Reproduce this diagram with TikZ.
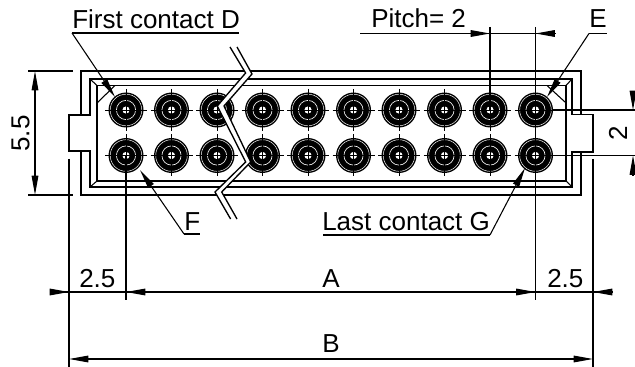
\documentclass[tikz,border=0pt]{standalone}
\usepackage{xcolor}
\usepackage{fontspec}
\setmainfont{Liberation Sans}
\usepackage{tikz}
\usetikzlibrary{arrows.meta}

\begin{document}
\begin{tikzpicture}[x = 0.75pt,
                    y = -0.75pt,
                    >={Triangle[length=14.5pt,width=5pt]},
                    wall/.style = {draw=black, line width=1pt, line join=miter},
                    dimline/.style = {draw=black, line width=0.8pt},
                    underline/.style = {draw=black, line width=1.2pt},
                    label_d/.style = {inner sep=0pt, anchor=base west, font=\fontsize{19.5}{22}\selectfont}]

  \useasboundingbox (0, 0) rectangle (635, 367);


  % DEF POINTS
  \coordinate (first_l) at (72, 33);
  \coordinate (first_r) at (239, 33);
  \coordinate (first_tip) at (115, 97);
  \coordinate (e_l) at (589, 33.5);
  \coordinate (e_r) at (607, 33.5);
  \coordinate (e_tip) at (547, 97);
  \coordinate (f_l) at (184, 234);
  \coordinate (f_r) at (200, 234);
  \coordinate (f_tip) at (140, 170);
  \coordinate (last_l) at (323, 235);
  \coordinate (last_r) at (490, 235);
  \coordinate (last_tip) at (525, 168);


  % BODY
  \draw[wall] (81, 115) -- (81, 71) -- (581, 71) -- (581, 114.5);
  \draw[wall] (581, 152) -- (581, 195) -- (81, 195) -- (81, 151);
  \draw[wall] (90, 79) -- (572, 79) -- (572, 114.5) -- (593, 114.5) -- (593, 152) -- (572, 152)
              -- (572, 187) -- (90, 187) -- (90, 151) -- (69, 151) -- (69, 115) -- (90, 115) -- cycle;
  \draw[wall] (97, 85.5) rectangle (566, 181);
  \draw[dimline] (90, 79) -- (97, 85.5);
  \draw[dimline] (572, 79) -- (566, 85.5);
  \draw[dimline] (90, 187) -- (97, 181);
  \draw[dimline] (572, 187) -- (566, 181);
  \draw[dimline] (97, 103) -- (115, 85.5);
  \draw[dimline] (547, 85.5) -- (565, 102);


  % CONTACTS
  \foreach \cx in {126, 171.5, 217, 262.5, 308, 353.5, 399, 444.5, 490, 535.5} {
    \foreach \cy in {110, 155.5} {
      \fill[black] (\cx, \cy) circle [radius=17.5];
      \draw[white, line width=0.35pt] (\cx, \cy) circle [radius=15.8];
      \draw[white, line width=0.45pt] (\cx, \cy) circle [radius=9.6];
      \fill[white] (\cx, \cy) circle [radius=3.6];
      \draw[black, line width=0.7pt] (\cx-21, \cy) -- (\cx+21, \cy);
      \draw[black, line width=0.7pt] (\cx, \cy-21) -- (\cx, \cy+21);
    }
  }


  % BREAK
  \fill[white] (230, 47) -- (245.6, 73) -- (217.3, 106) -- (245.7, 162) -- (215, 192) -- (230.6, 219)
               -- (237, 219) -- (221.7, 192) -- (250.7, 162) -- (224, 106) -- (252, 74) -- (237, 47) -- cycle;
  \draw[wall] (230, 47) -- (245.6, 73) -- (217.3, 106) -- (245.7, 162) -- (215, 192) -- (230.6, 219);
  \draw[wall] (237, 47) -- (252, 74) -- (224, 106) -- (250.7, 162) -- (221.7, 192) -- (237, 219);


  % LEADERS
  \node[label_d] (first_d) at (72, 29) {First contact D};
  \node[label_d] (e_lab) at (589, 28) {E};
  \node[label_d] (f_lab) at (184, 230) {F};
  \node[label_d] (last_g) at (322, 230) {Last contact G};
  \draw[underline] (first_l) -- (first_r);
  \draw[underline] (e_l) -- (e_r);
  \draw[underline] (f_l) -- (f_r);
  \draw[underline] (last_l) -- (last_r);
  \draw[dimline, ->] (first_l) -- (first_tip);
  \draw[dimline, ->] (e_l) -- (e_tip);
  \draw[dimline, ->] (f_l) -- (f_tip);
  \draw[dimline, ->] (last_r) -- (last_tip);


  % DIMENSIONS
  \coordinate (ext_a) at (69, 159);
  \coordinate (ext_ab) at (69, 367);
  \coordinate (ext_b) at (593, 159);
  \coordinate (ext_bb) at (593, 367);
  \coordinate (ext_c) at (126, 155.5);
  \coordinate (ext_cb) at (126, 300);
  \coordinate (ext_d) at (535.5, 27);
  \coordinate (ext_db) at (535.5, 300);
  \coordinate (ext_e) at (490, 27);
  \coordinate (ext_eb) at (490, 110);
  \draw[dimline] (ext_a) -- (ext_ab);
  \draw[dimline] (ext_b) -- (ext_bb);
  \draw[dimline] (ext_c) -- (ext_cb);
  \draw[dimline] (ext_d) -- (ext_db);
  \draw[dimline] (ext_e) -- (ext_eb);

  % pitch
  \node[label_d] (pitch) at (371, 28) {Pitch= 2};
  \draw[dimline] (360, 33.5) -- (555, 33.5);
  \draw[dimline, ->] (471, 33.5) -- (490, 33.5);
  \draw[dimline, ->] (555, 33.5) -- (535.5, 33.5);

  % 5.5
  \draw[dimline] (28, 71) -- (73, 71);
  \draw[dimline] (28, 195) -- (73, 195);
  \draw[dimline, <->] (35, 71) -- (35, 195);
  \node[inner sep=0pt, rotate=90, font=\fontsize{19.5}{22}\selectfont] (h_55) at (20.5, 133.5) {5.5};

  % 2
  \draw[dimline] (553, 110) -- (635, 110);
  \draw[dimline] (553, 155.5) -- (635, 155.5);
  \draw[dimline, ->] (633, 91) -- (633, 110);
  \draw[dimline, ->] (633, 175) -- (633, 155.5);
  \node[inner sep=0pt, rotate=90, font=\fontsize{19.5}{22}\selectfont] (h_2) at (618, 133) {2};

  % bottom row
  \draw[dimline] (50, 292) -- (611, 292);
  \draw[dimline, ->] (50, 292) -- (69, 292);
  \draw[dimline, ->] (146, 292) -- (126, 292);
  \draw[dimline, ->] (516, 292) -- (535.5, 292);
  \draw[dimline, ->] (612, 292) -- (593, 292);
  \node[label_d] (left_25) at (79, 287) {2.5};
  \node[label_d] (right_25) at (547, 287) {2.5};
  \node[label_d] (a_lab) at (322, 287) {A};
  \node[label_d] (b_lab) at (322, 352) {B};
  \draw[dimline, <->] (69, 359) -- (593, 359);

\end{tikzpicture}
\end{document}
